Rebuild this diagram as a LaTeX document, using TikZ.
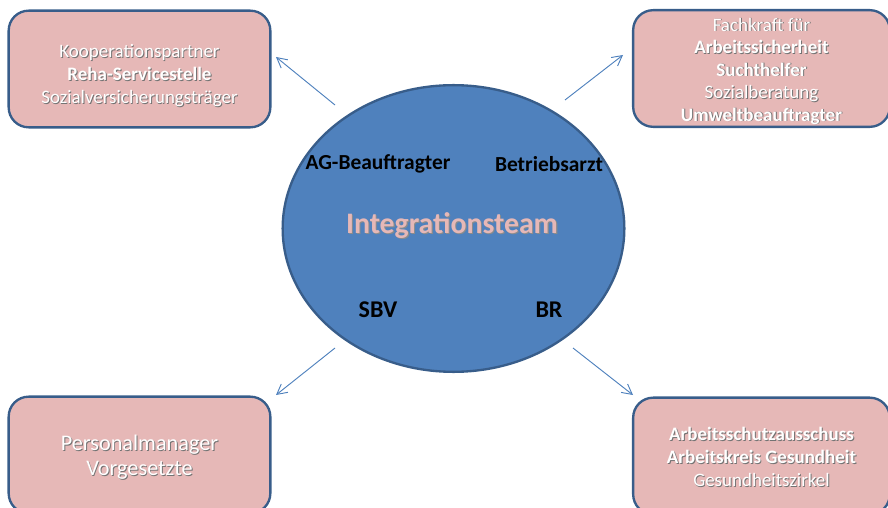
\documentclass[tikz,border=0pt]{standalone}
\usepackage{fontspec}
\setmainfont{Carlito}
\usepackage{xcolor}
\usetikzlibrary{shapes.geometric, arrows.meta, positioning}

\definecolor{boxpink}{RGB}{230,184,183}
\definecolor{teamblue}{RGB}{79,129,189}
\definecolor{rimblue}{RGB}{56,93,138}
\definecolor{arrowblue}{RGB}{79,129,189}

% white text with a soft grey shadow
\newcommand{\shl}[1]{\makebox[0pt][l]{\kern0.8pt\raisebox{-0.8pt}{\color{black!55}#1}}{\color{white}#1}}

\begin{document}
\begin{tikzpicture}[
    x=0.03cm, y=-0.03cm,
    % Partner boxes
    partner/.style={rectangle, rounded corners=0.6cm, draw=rimblue, line width=2pt, fill=boxpink,
        minimum width=7.85cm, minimum height=3.5cm},
    partnertext/.style={align=center, font=\fontsize{16.2}{19.6}\selectfont},
    % Team circle
    team/.style={ellipse, draw=rimblue, line width=2pt, fill=teamblue, minimum width=10.25cm, minimum height=8.6cm},
    member/.style={font=\fontsize{18.3}{21}\selectfont\bfseries, text=black},
    link/.style={draw=arrowblue, line width=0.8pt, -{Straight Barb[length=3mm, width=3.2mm]}}
]
    \useasboundingbox (0,0) rectangle (888,508);

    % Integration team
    \node[team] (team) at (453.5,228.5) {};
    \node[font=\fontsize{25.4}{28}\selectfont\bfseries] (title) at (452,226) {\makebox[0pt][l]{\kern0.9pt\raisebox{-0.9pt}{\color{black!45}Integrationsteam}}{\color{boxpink}Integrationsteam}};
    \node[member] (ag) at (378,164) {AG-Beauftragter};
    \node[member] (arzt) at (549,164) {Betriebsarzt};
    \node[member, font=\fontsize{20.5}{24}\selectfont\bfseries] (sbv) at (378,310) {SBV};
    \node[member, font=\fontsize{20.5}{24}\selectfont\bfseries] (br) at (549,310) {BR};

    % Partner boxes
    \node[partner] (koop) at (139.5,69) {};
    \node[partner, minimum width=7.7cm] (fach) at (761.5,68.5) {};
    \node[partner] (pers) at (139.5,455) {};
    \node[partner, minimum width=7.7cm] (schutz) at (761.5,456) {};

    % Partner texts
    \node[partnertext] (kooptext) at (139.5,76.5) {
        \shl{Kooperationspartner}\\
        \shl{\bfseries Reha-Servicestelle}\\
        \shl{Sozialversicherungsträger}
    };
    \node[partnertext, font=\fontsize{16.2}{19.2}\selectfont] (fachtext) at (761.5,71.5) {
        \shl{Fachkraft für}\\
        \shl{\bfseries Arbeitssicherheit}\\
        \shl{\bfseries Suchthelfer}\\
        \shl{Sozialberatung}\\
        \shl{\bfseries Umweltbeauftragter}
    };
    \node[partnertext, font=\fontsize{19}{21}\selectfont] (perstext) at (139.5,457.5) {
        \shl{Personalmanager}\\
        \shl{Vorgesetzte}
    };
    \node[partnertext] (schutztext) at (761.5,457) {
        \shl{\bfseries Arbeitsschutzausschuss}\\
        \shl{\bfseries Arbeitskreis Gesundheit}\\
        \shl{Gesundheitszirkel}
    };

    % Arrow ends
    \coordinate (s1) at (335,105);
    \coordinate (e1) at (276,57);
    \coordinate (s2) at (565,100);
    \coordinate (e2) at (623,55);
    \coordinate (s3) at (335,348);
    \coordinate (e3) at (276,395);
    \coordinate (s4) at (573,348);
    \coordinate (e4) at (633,395);

    % Arrows
    \draw[link] (s1) -- (e1);
    \draw[link] (s2) -- (e2);
    \draw[link] (s3) -- (e3);
    \draw[link] (s4) -- (e4);
\end{tikzpicture}
\end{document}
